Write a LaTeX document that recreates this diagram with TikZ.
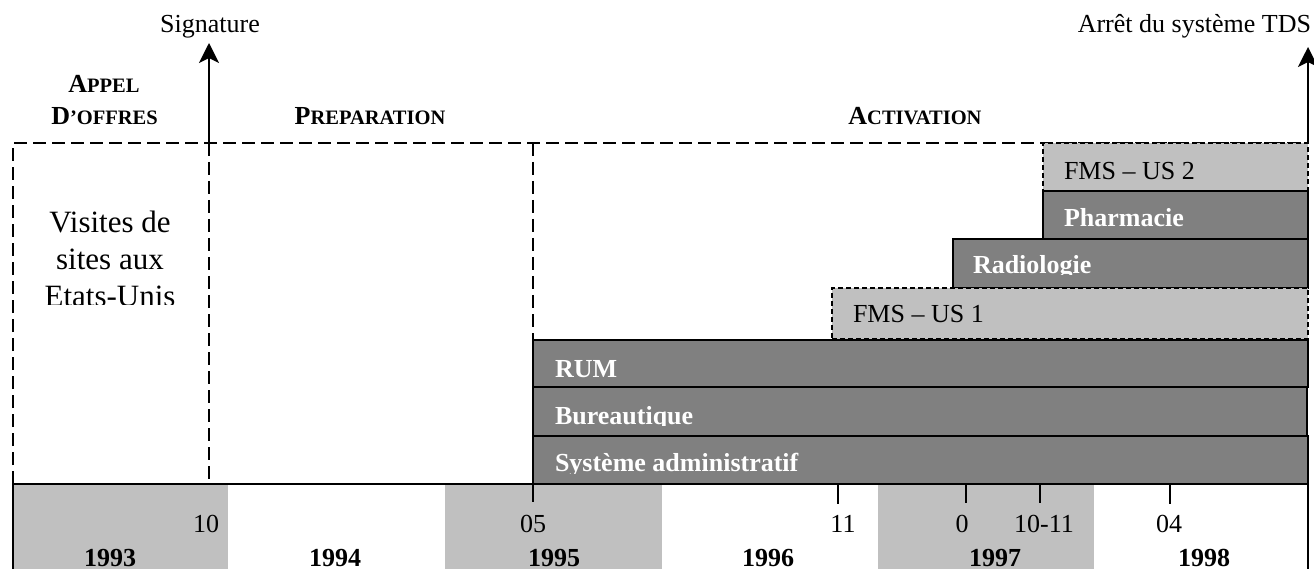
\documentclass[tikz,border=0pt]{standalone}
\usepackage{fontspec}
\setmainfont{Liberation Serif}
\usetikzlibrary{arrows.meta,calc}
\definecolor{darkbar}{HTML}{808080}
\definecolor{lightbar}{HTML}{C0C0C0}
\newcommand{\mysmcap}[2]{#1{\fontsize{20.5}{24}\selectfont #2}}
\begin{document}
\begin{tikzpicture}[x=1pt,y=-1pt,
  txt/.style={font=\fontsize{26}{30}\selectfont, inner sep=0pt, outer sep=0pt},
  btxt/.style={font=\fontsize{26}{30}\selectfont\bfseries, inner sep=0pt, outer sep=0pt},
  wtxt/.style={btxt, text=white, anchor=base west},
  ktxt/.style={txt, anchor=base west},
  phase/.style={draw=black, line width=2pt, dash pattern=on 13pt off 6pt},
  darkbox/.style={draw=black, line width=2pt, fill=darkbar, inner sep=0pt, outer sep=0pt, anchor=north west},
  lightbox/.style={draw=black, line width=1.5pt, dash pattern=on 5pt off 3pt, fill=lightbar, inner sep=0pt, outer sep=0pt, anchor=north west},
  tickline/.style={line width=1.5pt},
  milestone/.style={line width=2pt, -{Stealth[length=20pt,width=20pt,inset=5pt]}},
]
\useasboundingbox (0,0) rectangle (1314,569);

% phases (dashed frame)
\draw[phase] (13,484) -- (13,143) -- (1308,143);
\draw[phase] (209,143) -- (209,484);
\draw[phase] (533,143) -- (533,484);

% phase headings
\node[btxt, anchor=base] (appel) at (104,93) {\mysmcap{A}{PPEL}};
\node[btxt, anchor=base] (doffres) at (104.5,125) {\mysmcap{D}{’OFFRES}};
\node[btxt, anchor=base] (prep) at (370,125) {\mysmcap{P}{REPARATION}};
\node[btxt, anchor=base] (activ) at (915,125) {\mysmcap{A}{CTIVATION}};

% visits text (clipped like the original text box)
\begin{scope}
\clip (13,143) rectangle (209,304);
\node[font=\fontsize{31}{37}\selectfont, inner sep=0pt, align=center, anchor=north] (visites) at (110,211) {Visites de\\sites aux\\Etats-Unis};
\end{scope}

% milestones
\coordinate (sigfoot) at (209,143);
\coordinate (sigtip) at (209,43);
\draw[milestone] (sigfoot) -- (sigtip);
\node[txt, anchor=base] (sig) at (210,33) {Signature};
\coordinate (tdsfoot) at (1308,143);
\coordinate (tdstip) at (1308,47);
\draw[milestone] (tdsfoot) -- (tdstip);
\node[txt, anchor=base east] (arret) at (1311,33) {Arrêt du système TDS};

% bars, from top to bottom
\node[lightbox, minimum width=265, minimum height=48] (fms2) at (1043,143) {};
\node[ktxt] (fms2t) at ($(fms2.south west)+(21,-11)$) {FMS – US 2};

\node[darkbox, minimum width=265, minimum height=48] (pharm) at (1043,191) {};
\node[wtxt] (pharmt) at ($(pharm.south west)+(21,-12)$) {Pharmacie};

\node[darkbox, minimum width=355, minimum height=49] (radio) at (953,239) {};
\begin{scope}
\clip ($(radio.north west)$) rectangle ($(radio.south east)+(0,-13)$);
\node[wtxt] (radiot) at ($(radio.south west)+(20,-14)$) {Radiologie};
\end{scope}

\node[lightbox, minimum width=476, minimum height=51] (fms1) at (832,288) {};
\node[ktxt] (fms1t) at ($(fms1.south west)+(21,-16)$) {FMS – US 1};

\node[darkbox, minimum width=775, minimum height=47] (rum) at (533,340) {};
\node[wtxt] (rumt) at ($(rum.south west)+(22,-10)$) {RUM};

\node[darkbox, minimum width=774, minimum height=49] (bur) at (533,387) {};
\begin{scope}
\clip ($(bur.north west)$) rectangle ($(bur.south east)+(0,-11)$);
\node[wtxt] (burt) at ($(bur.south west)+(22,-12)$) {Bureautique};
\end{scope}

\node[darkbox, minimum width=775, minimum height=48] (sys) at (533,436) {};
\begin{scope}
\clip ($(sys.north west)$) rectangle ($(sys.south east)+(0,-11)$);
\node[wtxt] (syst) at ($(sys.south west)+(22,-13)$) {Système administratif};
\end{scope}

% year bands
\fill[lightbar] (13,484) rectangle (228,575);
\fill[lightbar] (445,484) rectangle (662,575);
\fill[lightbar] (878,484) rectangle (1094,575);
\draw[line width=2pt] (12,484) -- (1309,484);
\draw[line width=2pt] (13,484) -- (13,575);
\draw[line width=2pt] (1308,484) -- (1308,575);

% ticks
\draw[tickline] (533,484) -- (533,502);
\draw[tickline] (838,484) -- (838,504);
\draw[tickline] (966,484) -- (966,503);
\draw[tickline] (1040,484) -- (1040,503);
\draw[tickline] (1170,484) -- (1170,504);

% month labels
\node[txt, anchor=base] (m10) at (206,532) {10};
\node[txt, anchor=base] (m05) at (533,532) {05};
\node[txt, anchor=base] (m11) at (843,532) {11};
\node[txt, anchor=base] (m0) at (962,532) {0};
\node[txt, anchor=base] (m1011) at (1044,532) {10-11};
\node[txt, anchor=base] (m04) at (1169,532) {04};

% years
\node[btxt, anchor=base] (y93) at (110,566) {1993};
\node[btxt, anchor=base] (y94) at (335,566) {1994};
\node[btxt, anchor=base] (y95) at (554,566) {1995};
\node[btxt, anchor=base] (y96) at (768,566) {1996};
\node[btxt, anchor=base] (y97) at (995,566) {1997};
\node[btxt, anchor=base] (y98) at (1204,566) {1998};
\end{tikzpicture}
\end{document}
